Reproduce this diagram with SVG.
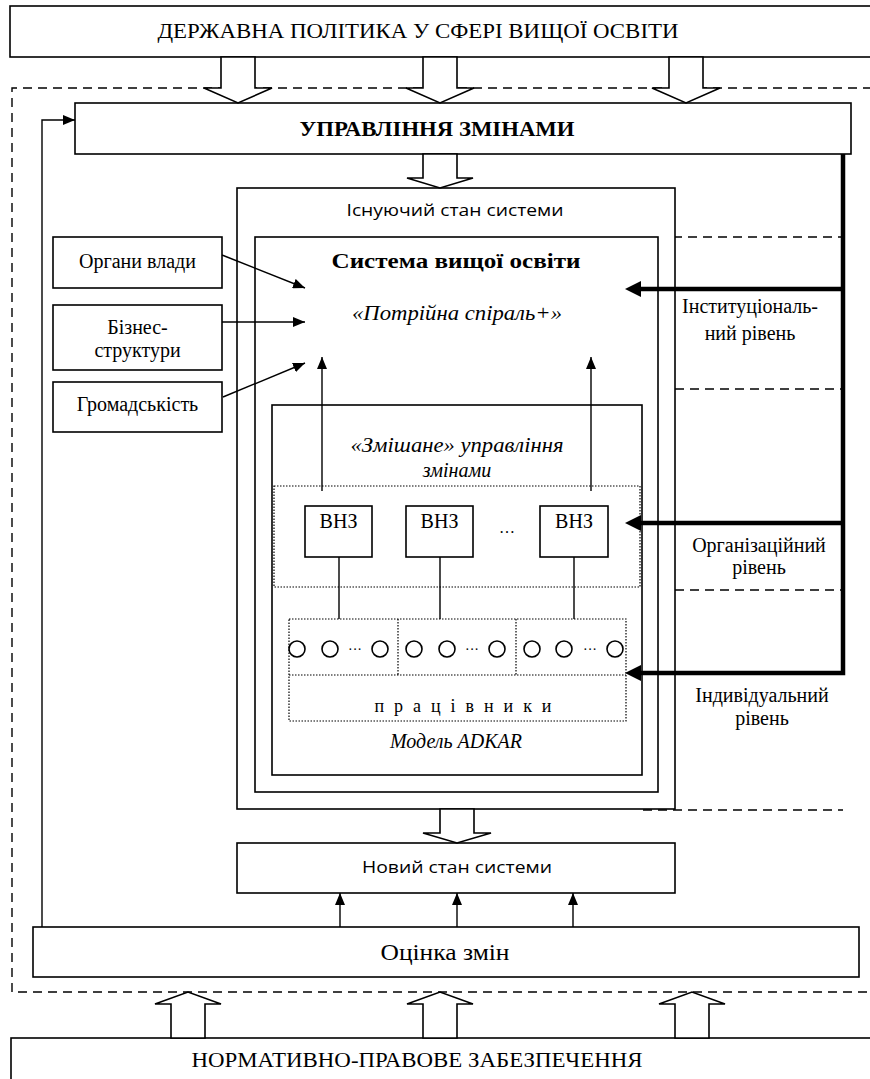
<svg xmlns="http://www.w3.org/2000/svg" width="870" height="1079" viewBox="0 0 870 1079">
<style>
.box{fill:#fff;stroke:#000;stroke-width:1.6}
.nf{fill:none;stroke:#000;stroke-width:1.6}
.thin{fill:none;stroke:#000;stroke-width:1.4}
.dash{fill:none;stroke:#000;stroke-width:1.4;stroke-dasharray:9 6}
.dot{fill:none;stroke:#000;stroke-width:1.2;stroke-dasharray:1.5 1.5}
.blk{fill:#fff;stroke:#000;stroke-width:1.6}
.thick{fill:none;stroke:#000;stroke-width:4.5}
.circ{fill:#fff;stroke:#000;stroke-width:1.6}
text{font-family:'Liberation Serif','DejaVu Serif',serif;font-size:20px;fill:#000;text-anchor:middle}
.b{font-weight:bold}
.i{font-style:italic}
text.ss{font-family:'Open Sans','Noto Sans','Liberation Sans',sans-serif;font-size:17px}
</style>
<defs>
<marker id="ah" markerUnits="userSpaceOnUse" viewBox="0 0 12 10" refX="12" refY="5" markerWidth="12" markerHeight="10" orient="auto"><path d="M0,0 L12,5 L0,10 z" fill="#000"/></marker>
<marker id="ahk" markerUnits="userSpaceOnUse" viewBox="0 0 16 16" refX="0" refY="8" markerWidth="16" markerHeight="16" orient="auto"><path d="M0,0 L16,8 L0,16 z" fill="#000"/></marker>
</defs>

<g id="boundary">
<path class="dash" d="M872,88 H12 V992 H872"/>
<path class="dash" d="M658,237 H843"/>
<path class="dash" d="M255,389 H843"/>
<path class="dash" d="M255,590 H843"/>
<path class="dash" d="M643,810 H843"/>
</g>

<g id="policy">
<rect class="box" x="10" y="6" width="870" height="51"/>
<text x="418" y="38" style="font-size:22px" textLength="521" lengthAdjust="spacingAndGlyphs">ДЕРЖАВНА ПОЛІТИКА У СФЕРІ ВИЩОЇ ОСВІТИ</text>
</g>

<g id="management">
<rect class="box" x="75" y="103" width="776" height="51"/>
<text class="b" x="437" y="136" style="font-size:22px" textLength="275" lengthAdjust="spacingAndGlyphs">УПРАВЛІННЯ ЗМІНАМИ</text>
</g>

<g id="existing">
<rect class="box" x="237" y="188" width="438" height="621"/>
<text class="ss" x="455" y="216" textLength="217" lengthAdjust="spacingAndGlyphs">Існуючий стан системи</text>
</g>

<g id="system">
<rect class="nf" x="255" y="237" width="403" height="555"/>
<text class="b" x="456" y="268" style="font-size:22px" textLength="249" lengthAdjust="spacingAndGlyphs">Система вищої освіти</text>
<text class="i" x="457" y="320" textLength="210" lengthAdjust="spacingAndGlyphs">«Потрійна спіраль+»</text>
</g>

<g id="mixed">
<rect class="nf" x="272" y="405" width="370" height="370"/>
<text class="i" x="457" y="452" textLength="213" lengthAdjust="spacingAndGlyphs">«Змішане» управління</text>
<text class="i" x="457" y="477">змінами</text>
<text class="i" x="456" y="748">Модель ADKAR</text>
</g>

<g id="vnz-group">
<rect class="dot" x="274" y="486" width="366" height="101"/>
<text x="507" y="533" style="font-size:16px">…</text>
</g>
<g id="vnz1"><rect class="box" x="305" y="506" width="67" height="51"/><text x="338.5" y="528">ВНЗ</text></g>
<g id="vnz2"><rect class="box" x="406" y="506" width="67" height="51"/><text x="439.5" y="528">ВНЗ</text></g>
<g id="vnz3"><rect class="box" x="540" y="506" width="68" height="51"/><text x="574" y="528">ВНЗ</text></g>

<g id="workers">
<rect class="dot" x="289" y="619" width="337" height="102"/>
<path class="dot" d="M289,675 H626 M398,619 V675 M516,619 V675"/>
<circle class="circ" cx="297" cy="649" r="8"/>
<circle class="circ" cx="330" cy="649" r="8"/>
<circle class="circ" cx="380" cy="649" r="8"/>
<circle class="circ" cx="414" cy="649" r="8"/>
<circle class="circ" cx="447" cy="649" r="8"/>
<circle class="circ" cx="497" cy="649" r="8"/>
<circle class="circ" cx="532" cy="649" r="8"/>
<circle class="circ" cx="564" cy="649" r="8"/>
<circle class="circ" cx="615" cy="649" r="8"/>
<text x="355" y="654" style="font-size:14px">···</text>
<text x="472" y="654" style="font-size:14px">···</text>
<text x="590" y="654" style="font-size:14px">···</text>
<text x="463" y="712" style="font-size:18px" textLength="177" lengthAdjust="spacing">п р а ц і в н и к и</text>
</g>

<g id="authorities"><rect class="box" x="53" y="237" width="169" height="51"/><text x="137.5" y="268">Органи влади</text></g>
<g id="business"><rect class="box" x="53" y="305" width="169" height="65"/><text x="137.5" y="334">Бізнес-</text><text x="137.5" y="357">структури</text></g>
<g id="public"><rect class="box" x="53" y="382" width="169" height="50"/><text x="137.5" y="411">Громадськість</text></g>

<g id="new-state">
<rect class="box" x="237" y="843" width="438" height="50"/>
<text class="ss" x="457" y="873" textLength="190" lengthAdjust="spacingAndGlyphs">Новий стан системи</text>
</g>

<g id="evaluation">
<rect class="box" x="33" y="927" width="826" height="50"/>
<text x="445" y="960" style="font-size:24px" textLength="129" lengthAdjust="spacingAndGlyphs">Оцінка змін</text>
</g>

<g id="legal">
<rect class="box" x="11" y="1038" width="870" height="50"/>
<text x="417" y="1067" style="font-size:22px" textLength="451" lengthAdjust="spacingAndGlyphs">НОРМАТИВНО-ПРАВОВЕ ЗАБЕЗПЕЧЕННЯ</text>
</g>

<g id="level-labels">
<text x="750" y="313">Інституціональ-</text>
<text x="750" y="340">ний рівень</text>
<text x="759" y="552">Організаційний</text>
<text x="759" y="574">рівень</text>
<text x="762" y="702">Індивідуальний</text>
<text x="762" y="725">рівень</text>
</g>

<g id="connectors">
<path class="blk" d="M221,57 V88 H204 L238,103 L272,88 H255 V57 z"/>
<path class="blk" d="M423,57 V88 H406 L440,103 L474,88 H457 V57 z"/>
<path class="blk" d="M669,57 V88 H652 L686,103 L720,88 H703 V57 z"/>
<path class="blk" d="M423,154 V178 H407 L440,188 L473,178 H457 V154 z"/>
<path class="blk" d="M440,809 V833 H423 L457,843 L491,833 H474 V809 z"/>
<path class="blk" d="M171,1038 V1004 H155 L188,992 L221,1004 H205 V1038 z"/>
<path class="blk" d="M423,1038 V1004 H407 L440,992 L473,1004 H457 V1038 z"/>
<path class="blk" d="M675,1038 V1004 H659 L692,992 L725,1004 H709 V1038 z"/>
<path class="thin" d="M42,927 V120 H75" marker-end="url(#ah)"/>
<line class="thin" x1="222" y1="255" x2="305" y2="288" marker-end="url(#ah)"/>
<line class="thin" x1="222" y1="322" x2="305" y2="322" marker-end="url(#ah)"/>
<line class="thin" x1="223" y1="397" x2="305" y2="363" marker-end="url(#ah)"/>
<line class="thin" x1="322" y1="491" x2="322" y2="357" marker-end="url(#ah)"/>
<line class="thin" x1="591" y1="491" x2="591" y2="357" marker-end="url(#ah)"/>
<path class="thin" d="M339,557 V619 M440,557 V619 M574,557 V619"/>
<line class="thin" x1="340" y1="927" x2="340" y2="893" marker-end="url(#ah)"/>
<line class="thin" x1="457" y1="927" x2="457" y2="893" marker-end="url(#ah)"/>
<line class="thin" x1="573" y1="927" x2="573" y2="893" marker-end="url(#ah)"/>
<path class="thick" d="M843,154 V673 H641" marker-end="url(#ahk)"/>
<path class="thick" d="M843,289 H641" marker-end="url(#ahk)"/>
<path class="thick" d="M843,523 H641" marker-end="url(#ahk)"/>
</g>
</svg>
